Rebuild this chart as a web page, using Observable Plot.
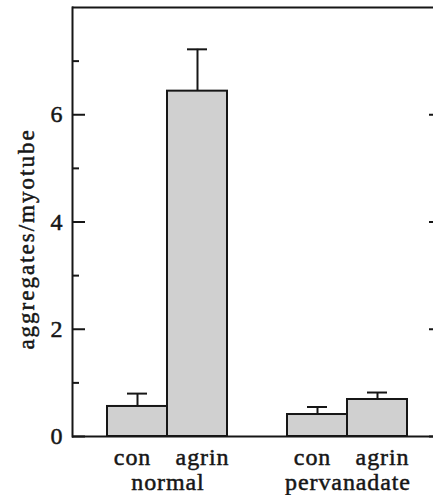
<!DOCTYPE html>
<html><head><meta charset="utf-8">
<script src="https://cdn.jsdelivr.net/npm/d3@7"></script>
<script src="https://cdn.jsdelivr.net/npm/@observablehq/plot@0.6"></script>
<style>
html,body{margin:0;padding:0;background:#fff;overflow:hidden;}
#chart{width:433px;height:495px;overflow:hidden;}
#chart svg{display:block;overflow:hidden;max-width:none !important;height:495px !important;}
</style></head><body><div id="chart"></div>
<script>
const groups = ["normal", "pervanadate"];
const treatments = ["con", "agrin"];
const means = [0.56, 6.44, 0.41, 0.69];
const errors = [0.24, 0.78, 0.14, 0.13];
const yTicks = [0, 2, 4, 6];
const yMinorTicks = [1, 3, 5, 7];
const yLabel = "aggregates/myotube";

const data = groups.flatMap((g, gi) => treatments.map((t, ti) => ({
  group: g, treatment: t, key: g + "/" + t,
  mean: means[gi * treatments.length + ti],
  err: errors[gi * treatments.length + ti]
})));
const spacer = " ";
const xDomain = groups.flatMap((g, gi) => (gi > 0 ? [spacer] : []).concat(treatments.map(t => g + "/" + t)));

// the original figure is cropped: its right axis lies just past the picture's right edge
const W = 433, H = 495, ML = 72, MT = 7, MB = 59, overhang = 8;
const xOpts = {type: "band", domain: xDomain, paddingInner: 0, paddingOuter: 0.525, align: 0.5};
const xRange = [ML, W + overhang];
const bw = Plot.scale({x: {...xOpts, range: xRange}}).bandwidth;

const serif = "Liberation Serif, Times New Roman, serif";
const ink = "#161616";
const textStyle = {fontFamily: serif, fill: ink, stroke: ink, strokeWidth: 0.5};

const groupLabels = groups.map(g => ({group: g, key: g + "/" + treatments[0]}));

const chart = Plot.plot({
  width: W, height: H,
  marginLeft: ML, marginRight: 0, marginTop: MT, marginBottom: MB,
  style: {fontFamily: serif, background: "#fff", color: ink},
  x: {...xOpts, range: xRange, axis: null},
  y: {domain: [0, 8], axis: null},
  marks: [
    Plot.barY(data, {x: "key", y: "mean", fill: "#d0d0d0", stroke: ink, strokeWidth: 2}),
    Plot.ruleX(data, {x: "key", y1: "mean", y2: d => d.mean + d.err, stroke: ink, strokeWidth: 2}),
    Plot.tickY(data, {x: "key", y: d => d.mean + d.err, insetLeft: 20, insetRight: 20, stroke: ink, strokeWidth: 2}),
    Plot.frame({anchor: "left", stroke: ink, strokeWidth: 2}),
    Plot.ruleY([0, 8], {stroke: ink, strokeWidth: 2}),
    Plot.axisY(yTicks, {anchor: "left", tickSize: -13, tickPadding: 23, tickFormat: d => String(d), fontSize: 24, fontFamily: serif, strokeWidth: 2, stroke: ink, fill: ink, label: null}),
    Plot.axisY(yMinorTicks, {anchor: "left", tickSize: -7, tickFormat: () => "", strokeWidth: 2, stroke: ink, label: null}),
    Plot.axisY(yTicks, {anchor: "right", tickSize: -(13 - overhang), tickFormat: () => "", strokeWidth: 2, stroke: ink, label: null}),
    Plot.text(data.filter(d => d.treatment === treatments[0]), {x: "key", text: "treatment", frameAnchor: "bottom", dy: 21, dx: -5, fontSize: 24, lineAnchor: "middle", ...textStyle}),
    Plot.text(data.filter(d => d.treatment === treatments[1]), {x: "key", text: "treatment", frameAnchor: "bottom", dy: 21, dx: 5, fontSize: 24, lineAnchor: "middle", ...textStyle}),
    Plot.text(groupLabels, {x: "key", text: "group", frameAnchor: "bottom", dx: bw / 2, dy: 46, fontSize: 24, lineAnchor: "middle", ...textStyle}),
    Plot.text([yLabel], {text: d => d, frameAnchor: "left", rotate: -90, dx: -46, dy: 17, fontSize: 23, textAnchor: "middle", lineAnchor: "middle", ...textStyle})
  ]
});
document.getElementById("chart").appendChild(chart);
const svg = d3.select(chart);
svg.selectAll('g[aria-label="text"] text').style("letter-spacing", "0.9px");
svg.selectAll('g[aria-label="text"] text').filter(function() { return this.textContent === yLabel; }).style("letter-spacing", "2px");
svg.selectAll('g[aria-label="y-axis tick label"] text').style("stroke", ink).style("stroke-width", "0.5px");
</script>
</body></html>
